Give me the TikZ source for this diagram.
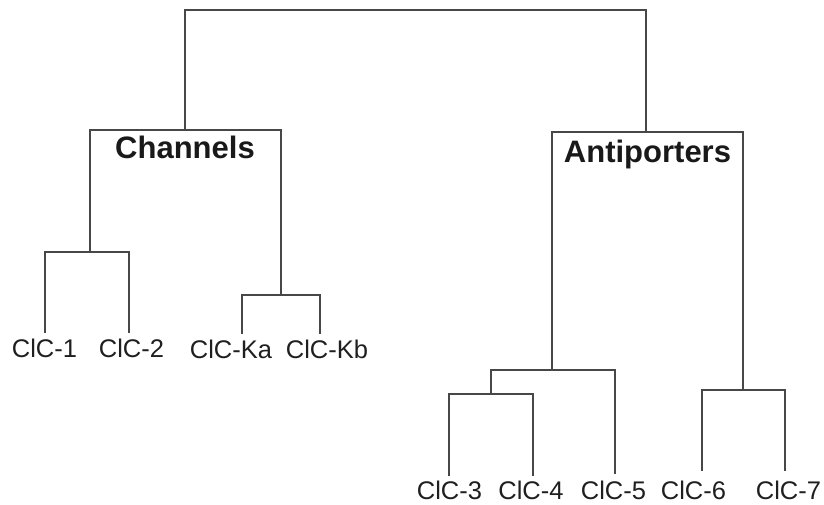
\documentclass[tikz,border=0pt]{standalone}
\usepackage{fontspec}
\setmainfont{Liberation Sans}
\begin{document}
\begin{tikzpicture}[x=1pt,y=-1pt,
  branch/.style={draw=black!72,line width=1.4pt,line cap=rect},
  leaf/.style={anchor=base,inner sep=0pt,text=black!88,font=\fontsize{25.5}{30}\selectfont},
  group/.style={anchor=base,inner sep=0pt,text=black!90,font=\fontsize{31}{36}\selectfont\bfseries}]
\useasboundingbox (0,0) rectangle (824,504);
% leaf labels
\node[leaf] (c1)  at (44.5,357) {ClC-1};
\node[leaf] (c2)  at (131.5,357) {ClC-2};
\node[leaf] (cka) at (231,358) {ClC-Ka};
\node[leaf] (ckb) at (327,358) {ClC-Kb};
\node[leaf] (c3)  at (449.5,499) {ClC-3};
\node[leaf] (c4)  at (531,499) {ClC-4};
\node[leaf] (c5)  at (613.5,499) {ClC-5};
\node[leaf] (c6)  at (693.5,499) {ClC-6};
\node[leaf] (c7)  at (788.5,499) {ClC-7};
% group labels
\node[group] (chl) at (185,158) {Channels};
\node[group] (apl) at (647.5,162) {Antiporters};
% leaf tips
\coordinate (t1)  at (45,332);
\coordinate (t2)  at (129,332);
\coordinate (tka) at (242,333);
\coordinate (tkb) at (320,333);
\coordinate (t3)  at (449,475);
\coordinate (t4)  at (533,475);
\coordinate (t5)  at (615,473);
\coordinate (t6)  at (702,470);
\coordinate (t7)  at (785,470);
% junctions
\coordinate (root) at (415,10);
\coordinate (ch)   at (185,130);
\coordinate (ap)   at (646,132);
\coordinate (j12)  at (90,252);
\coordinate (jk)   at (281,295);
\coordinate (j345) at (552,370);
\coordinate (j34)  at (491,394);
\coordinate (j67)  at (743,390);
% dendrogram
\draw[branch] (ch) |- (root) -| (ap);
\draw[branch] (j12) |- (ch) -| (jk);
\draw[branch] (j345) |- (ap) -| (j67);
\draw[branch] (t1) |- (j12) -| (t2);
\draw[branch] (tka) |- (jk) -| (tkb);
\draw[branch] (j34) |- (j345) -| (t5);
\draw[branch] (t3) |- (j34) -| (t4);
\draw[branch] (t6) |- (j67) -| (t7);
\end{tikzpicture}
\end{document}
